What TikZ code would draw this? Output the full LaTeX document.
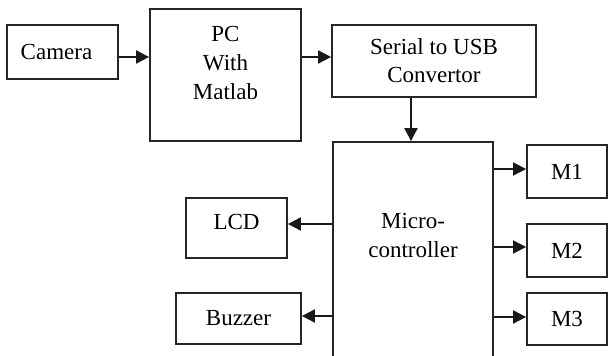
\documentclass[tikz,border=0pt]{standalone}
\usepackage{fontspec}
\setmainfont{Liberation Serif}
\usetikzlibrary{arrows.meta}
\begin{document}
\begin{tikzpicture}[x=1pt,y=-1pt,
  blk/.style={draw=black!85,line width=1.8pt,fill=white,inner sep=0pt,
    align=center,font=\fontsize{23}{28}\selectfont},
  txt/.style={inner sep=0pt,align=center,font=\fontsize{23}{29}\selectfont},
  arr/.style={draw=black!90,line width=2pt,-{Triangle[length=13pt,width=13pt]}}]
\useasboundingbox (0,0) rectangle (608,356);
\fill[white] (0,0) rectangle (608,356);
% blocks
\node[blk,minimum width=111pt,minimum height=54pt]  (camera) at (62.5,52)   {Camera\hspace*{12pt}};
\node[blk,minimum width=151pt,minimum height=132pt] (pc)     at (225.5,75)  {};
\node[txt,anchor=north] (pclabel) at (225.5,26) {PC\\With\\Matlab};
\node[blk,minimum width=204pt,minimum height=72pt]  (serial) at (434,61)    {Serial to USB\\Convertor};
\node[blk,minimum width=160pt,minimum height=218pt] (micro)  at (413,251)   {};
\node[txt,anchor=north] (microlabel) at (413,213) {Micro-\\controller};
\node[blk,minimum width=80pt,minimum height=53pt]   (m1)     at (567,171.5) {M1};
\node[blk,minimum width=80pt,minimum height=53pt]   (m2)     at (567,250.5) {M2};
\node[blk,minimum width=80pt,minimum height=52pt]   (m3)     at (567,319)   {M3};
\node[blk,minimum width=101pt,minimum height=60pt]  (lcd)    at (236.5,228) {LCD\rule[-12pt]{0pt}{0pt}};
\node[blk,minimum width=125pt,minimum height=51pt]  (buzzer) at (238.5,318.5) {Buzzer};
% heights of the connector lines
\coordinate (row) at (0,57);
\coordinate (r1) at (0,169);
\coordinate (r2) at (0,247);
\coordinate (r3) at (0,317);
\coordinate (rl) at (0,224);
\coordinate (rb) at (0,316);
\coordinate (col) at (411,0);
% signal flow
\draw[arr] (camera.east |- row) -- (pc.west |- row);
\draw[arr] (pc.east |- row) -- (serial.west |- row);
\draw[arr] (serial.south -| col) -- (micro.north -| col);
\draw[arr] (micro.east |- r1) -- (m1.west |- r1);
\draw[arr] (micro.east |- r2) -- (m2.west |- r2);
\draw[arr] (micro.east |- r3) -- (m3.west |- r3);
\draw[arr] (micro.west |- rl) -- (lcd.east |- rl);
\draw[arr] (micro.west |- rb) -- (buzzer.east |- rb);
\end{tikzpicture}
\end{document}
